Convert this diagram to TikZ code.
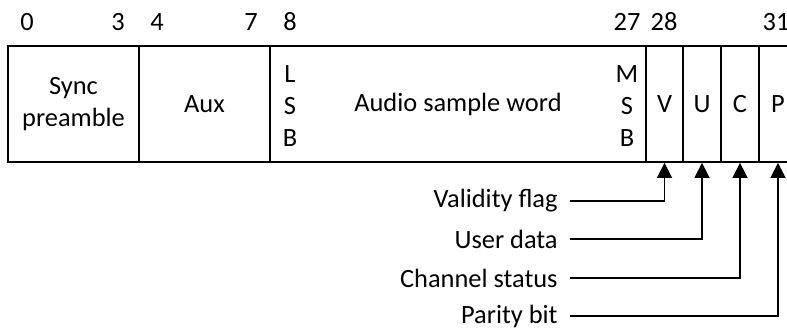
\documentclass[tikz,border=0pt]{standalone}
\usepackage{fontspec}
\setmainfont{Carlito}
\usetikzlibrary{arrows.meta}

\begin{document}
\begin{tikzpicture}[x=0.5pt,y=-0.5pt,>={Triangle[width=7.5pt,length=7.5pt]},
    every node/.style={font=\fontsize{13.2}{16}\selectfont},
    field/.style={draw,line width=0.9pt,minimum height=58pt,inner sep=0pt,align=center},
    bitno/.style={inner sep=0pt},
    flagtext/.style={anchor=east,inner xsep=6pt,inner ysep=0pt}]
  \useasboundingbox (0,0) rectangle (787,331);
  % subframe fields
  \node[field,minimum width=65.5pt] (sync) at (73.5,104) {Sync\\preamble};
  \node[field,minimum width=65.5pt] (aux) at (204.5,104) {Aux};
  \node[field,minimum width=188pt] (audio) at (458,104) {Audio sample word};
  \node[field,minimum width=18.5pt] (v) at (664.5,104) {V};
  \node[field,minimum width=19pt] (u) at (702,104) {U};
  \node[field,minimum width=19pt] (c) at (740,104) {C};
  \node[field,minimum width=19pt] (p) at (778,104) {P};
  \node[align=center] (lsb) at (290,106) {L\\S\\B};
  \node[align=center] (msb) at (627,106) {M\\S\\B};
  % bit numbers
  \node[bitno] (b0) at (27,22) {0};
  \node[bitno] (b3) at (118,22) {3};
  \node[bitno] (b4) at (157,22) {4};
  \node[bitno] (b7) at (251,22) {7};
  \node[bitno] (b8) at (290,22) {8};
  \node[bitno] (b27) at (627,22) {27};
  \node[bitno] (b28) at (664,22) {28};
  \node[bitno] (b31) at (776,22) {31};
  % flag labels
  \node[flagtext] (validity) at (570,201) {Validity flag};
  \node[flagtext] (user) at (570,239) {User data};
  \node[flagtext] (status) at (570,278) {Channel status};
  \node[flagtext] (parity) at (570,316) {Parity bit};
  \draw[->,line width=0.75pt] (validity.east) -| (v.south);
  \draw[->,line width=0.75pt] (user.east) -| (u.south);
  \draw[->,line width=0.75pt] (status.east) -| (c.south);
  \draw[->,line width=0.75pt] (parity.east) -| (p.south);
\end{tikzpicture}
\end{document}
